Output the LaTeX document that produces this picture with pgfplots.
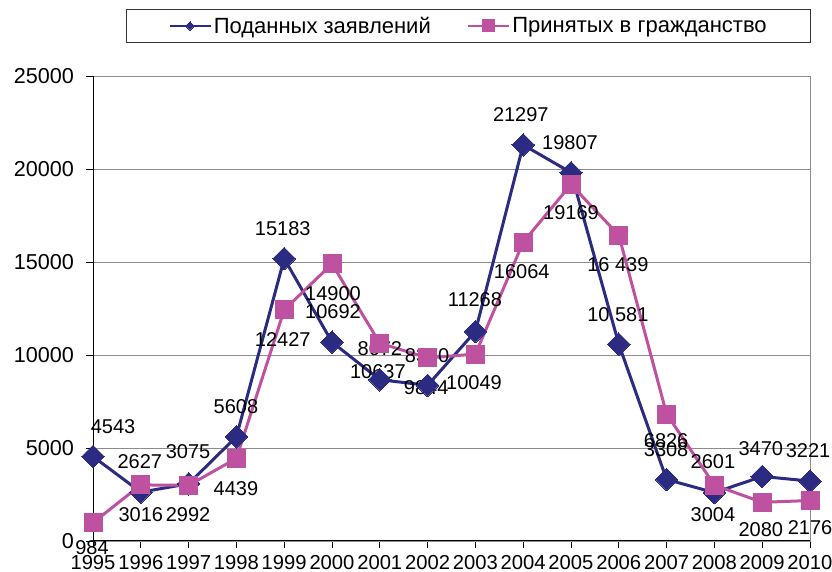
\documentclass[border=0pt]{standalone}
\usepackage{fontspec}
\setmainfont{Liberation Sans}
\usepackage{pgfplots}
\pgfplotsset{compat=1.18}
\definecolor{cblue}{RGB}{43,43,130}
\definecolor{cpink}{RGB}{191,82,160}
\tikzset{lbl/.style={font=\fontsize{20}{24}\selectfont, inner sep=0pt, anchor=center, text=black}}
\begin{document}
\begin{tikzpicture}
\useasboundingbox (0,0) rectangle (832pt,572pt);
\begin{axis}[
  at={(93pt,31pt)}, anchor=south west,
  scale only axis, width=717pt, height=465pt,
  xmin=1995, xmax=2010, ymin=0, ymax=25000,
  xtick={1995,...,2010}, ytick={0,5000,...,25000},
  /pgf/number format/assume math mode=true,
  /pgf/number format/1000 sep={},
  scaled y ticks=false,
  ymajorgrids, grid style={gray!90, line width=0.8pt},
  axis line style={gray!90, line width=0.9pt},
  tick pos=left, tick align=outside, major tick length=7pt,
  tick style={black, line width=0.8pt},
  xticklabel style={font=\fontsize{20.2}{24}\selectfont, yshift=-4pt},
  yticklabel style={font=\fontsize{21.6}{25}\selectfont, xshift=-8.5pt},
  clip=false,
  legend columns=2,
  legend style={at={(0.5237,1.144)}, anchor=north, draw=black!80, line width=0.8pt,
    font=\fontsize{22}{26}\selectfont, inner xsep=42pt, inner ysep=5.5pt,
    /tikz/every even column/.append style={column sep=34pt}},
  legend image code/.code={\draw[#1, line width=2.5pt, mark repeat=2, mark phase=2] plot coordinates {(0pt,0pt) (20.5pt,0pt) (41pt,0pt)};},
]
\draw[black, line width=1pt] (rel axis cs:0,0) -- (rel axis cs:0,1);
\draw[black, line width=1pt] (rel axis cs:0,0) -- (rel axis cs:1,0);
\addplot[cblue, line width=3pt, mark=square*, mark size=8pt, mark options={rotate=45, line width=0pt},
  legend image post style={mark size=3pt}]
  coordinates {
  (1995,4543) (1996,2627) (1997,3075) (1998,5608) (1999,15183) (2000,10692)
  (2001,8672) (2002,8370) (2003,11268) (2004,21297) (2005,19807) (2006,10581)
  (2007,3308) (2008,2601) (2009,3470) (2010,3221)};
\addlegendentry{Поданных заявлений}
\addplot[cpink, line width=3pt, mark=square*, mark size=9pt, mark options={line width=0pt},
  legend image post style={mark size=6pt}]
  coordinates {
  (1995,984) (1996,3016) (1997,2992) (1998,4439) (1999,12427) (2000,14900)
  (2001,10637) (2002,9844) (2003,10049) (2004,16064) (2005,19169) (2006,16439)
  (2007,6826) (2008,3004) (2009,2080) (2010,2176)};
\addlegendentry{Принятых в гражданство}
\node[lbl] at (axis cs:1995.42,6129) {4543};
\node[lbl] at (axis cs:1994.98,-376) {984};
\node[lbl] at (axis cs:1995.98,4247) {2627};
\node[lbl] at (axis cs:1996.00,1398) {3016};
\node[lbl] at (axis cs:1996.99,4785) {3075};
\node[lbl] at (axis cs:1996.99,1398) {2992};
\node[lbl] at (axis cs:1997.99,7204) {5608};
\node[lbl] at (axis cs:1997.99,2796) {4439};
\node[lbl] at (axis cs:1998.97,16773) {15183};
\node[lbl] at (axis cs:1998.97,10806) {12427};
\node[lbl] at (axis cs:2000.02,13279) {14900};
\node[lbl] at (axis cs:2000.02,12311) {10692};
\node[lbl] at (axis cs:2001.00,10322) {8672};
\node[lbl] at (axis cs:2000.96,9085) {10637};
\node[lbl] at (axis cs:2001.99,9946) {8370};
\node[lbl] at (axis cs:2001.97,8225) {9844};
\node[lbl] at (axis cs:2002.97,8494) {10049};
\node[lbl] at (axis cs:2002.99,12956) {11268};
\node[lbl] at (axis cs:2003.95,22902) {21297};
\node[lbl] at (axis cs:2004.98,21396) {19807};
\node[lbl] at (axis cs:2003.97,14461) {16064};
\node[lbl] at (axis cs:2005.00,17633) {19169};
\node[lbl] at (axis cs:2005.98,14838) {16 439};
\node[lbl] at (axis cs:2005.98,12150) {10 581};
\node[lbl] at (axis cs:2006.99,5376) {6826};
\node[lbl] at (axis cs:2006.99,4892) {3308};
\node[lbl] at (axis cs:2007.97,4247) {2601};
\node[lbl] at (axis cs:2007.97,1398) {3004};
\node[lbl] at (axis cs:2008.97,4946) {3470};
\node[lbl] at (axis cs:2009.96,4838) {3221};
\node[lbl] at (axis cs:2008.97,591) {2080};
\node[lbl] at (axis cs:2010.00,699) {2176};
\end{axis}
\end{tikzpicture}
\end{document}
